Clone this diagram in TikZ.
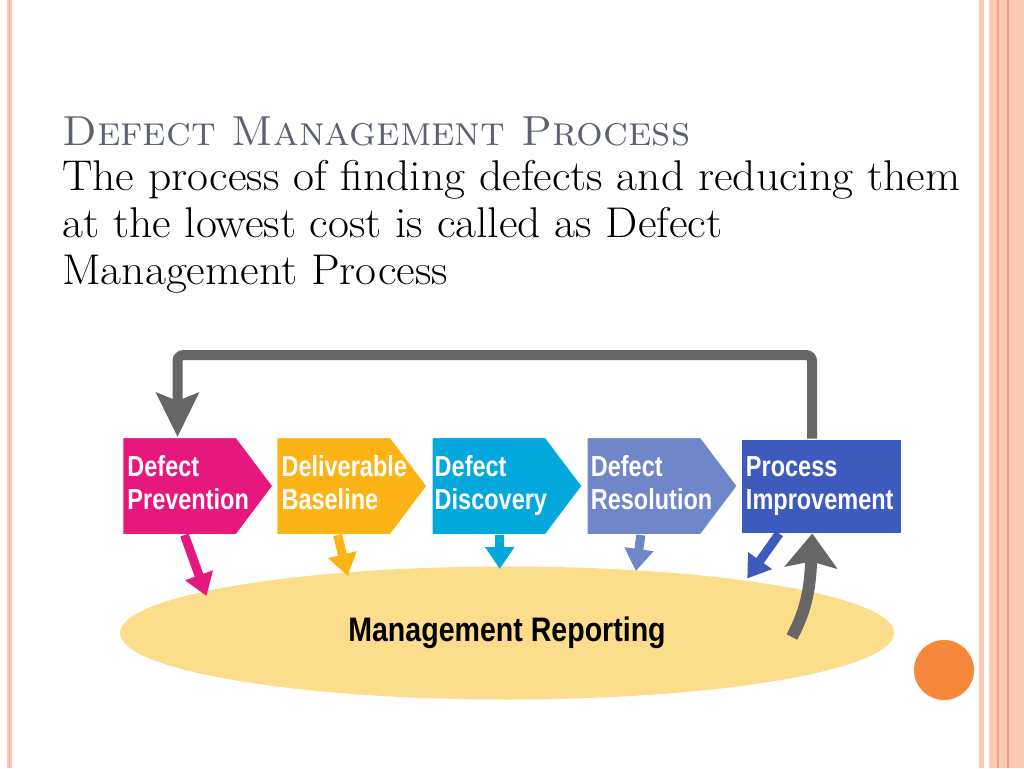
\documentclass[tikz,border=0pt]{standalone}
\usepackage{fontspec}
\usepackage{graphicx}
\usetikzlibrary{positioning,arrows.meta,shapes.geometric,shapes.symbols}
\newfontfamily\stepfont{Liberation Sans}
\definecolor{StepPink}{HTML}{E6177D}
\definecolor{StepOrange}{HTML}{FCB316}
\definecolor{StepCyan}{HTML}{03A9DD}
\definecolor{StepLilac}{HTML}{6F86C8}
\definecolor{StepBlue}{HTML}{3D5BBD}
\definecolor{LoopGray}{HTML}{666666}
\definecolor{ReportBg}{HTML}{FBDD8B}
\definecolor{DotOrange}{HTML}{F7873A}
\definecolor{TitleGray}{HTML}{5D6270}
\definecolor{EdgePink}{HTML}{FBCBB6}
\definecolor{EdgeLine}{HTML}{F2A27E}
\newcommand{\steplabel}[2]{\scalebox{0.81}[1]{\begin{tabular}{@{}l@{}}#1\\#2\end{tabular}}}

\begin{document}
\begin{tikzpicture}[x=1pt,y=-1pt,
    stepbox/.style={shape=signal, signal to=east, signal pointer angle=106,
      fill=#1, draw=white, line width=1pt,
      minimum width=150pt, minimum height=97pt, inner sep=0pt},
    steptext/.style={anchor=west, inner sep=0pt, text=white,
      font=\stepfont\bfseries\fontsize{29}{33}\selectfont},
    feedback/.style={draw=LoopGray, line width=10pt, rounded corners=6pt},
    report/.style={draw=#1, line width=9pt, -{Triangle[width=28pt,length=22pt]}}]
  \useasboundingbox (0,0) rectangle (1024,768);

  % slide edges
  \fill[EdgePink] (7,0) rectangle (12,768);
  \draw[EdgeLine, line width=1pt] (9.5,0) -- (9.5,768);
  \fill[EdgePink] (979,0) rectangle (984,768);
  \fill[EdgePink] (989,0) rectangle (1024,768);
  \draw[EdgeLine, line width=1.5pt] (998,0) -- (998,768);
  \draw[EdgeLine, line width=1.5pt] (1008,0) -- (1008,768);
  \fill[DotOrange] (944,670) circle (30);

  % heading
  \node[anchor=base west, inner sep=0pt, text=TitleGray,
    font=\fontsize{42}{47}\selectfont] (title) at (62,145)
    {\textsc{Defect Management Process}};
  \node[anchor=base west, inner sep=0pt,
    font=\fontsize{43}{47}\selectfont] (intro) at (62,284)
    {\scalebox{1.06}[1]{\begin{tabular}[b]{@{}l@{}}
     The process of finding defects and reducing them\\
     at the lowest cost is called as Defect\\
     Management Process\end{tabular}}};

  % reporting ellipse
  \node[ellipse, fill=ReportBg, minimum width=774pt, minimum height=133pt,
    font=\stepfont\bfseries\fontsize{34}{40}\selectfont] (mr) at (507,633)
    {\scalebox{0.84}[1]{Management Reporting}};

  % process steps
  \node[stepbox=StepPink] (dp) at (179.5,486) {};
  \node[stepbox=StepOrange, right=3pt of dp] (db) {};
  \node[stepbox=StepCyan, right=4pt of db] (dd) {};
  \node[stepbox=StepLilac, right=4pt of dd] (dr) {};
  \node[fill=StepBlue, draw=white, line width=1pt, minimum width=160pt,
    minimum height=94pt, inner sep=0pt, right=3pt of dr] (pi) {};

  \node[steptext] (dpt) at ([xshift=5pt]dp.west) {\steplabel{Defect}{Prevention}};
  \node[steptext] (dbt) at ([xshift=5pt]db.west) {\steplabel{Deliverable}{Baseline}};
  \node[steptext] (ddt) at ([xshift=3pt]dd.west) {\steplabel{Defect}{Discovery}};
  \node[steptext] (drt) at ([xshift=4pt]dr.west) {\steplabel{Defect}{Resolution}};
  \node[steptext] (pit) at ([xshift=5pt]pi.west) {\steplabel{Process}{Improvement}};

  % arrows down to reporting
  \draw[report=StepPink] ([xshift=5pt]dp.south) -- ([xshift=27pt,yshift=-61pt]dp.south);
  \draw[report=StepOrange] ([xshift=4pt]db.south) -- ([xshift=14pt,yshift=-41pt]db.south);
  \draw[report=StepCyan] ([xshift=11pt]dd.south) -- ([xshift=11pt,yshift=-34pt]dd.south);
  \draw[report=StepLilac] ([xshift=-3pt]dr.south) -- ([xshift=-8pt,yshift=-36pt]dr.south);
  \draw[report=StepBlue] ([xshift=-42pt]pi.south) -- ([xshift=-74pt,yshift=-45pt]pi.south);

  % feedback loop
  \coordinate (fbtop) at (812,355);
  \draw[feedback, -{Stealth[width=42pt,length=44pt,inset=8pt]}]
    (fbtop |- pi.north) -- (fbtop) -| ([xshift=-2pt]dp.north);
  \coordinate (rise) at (792,637);
  \draw[feedback, line width=12pt, -{Stealth[width=52pt,length=34pt,inset=6pt]}]
    (rise) .. controls (806,610) and (810,590) .. ([xshift=-9pt]pi.south);
\end{tikzpicture}
\end{document}
